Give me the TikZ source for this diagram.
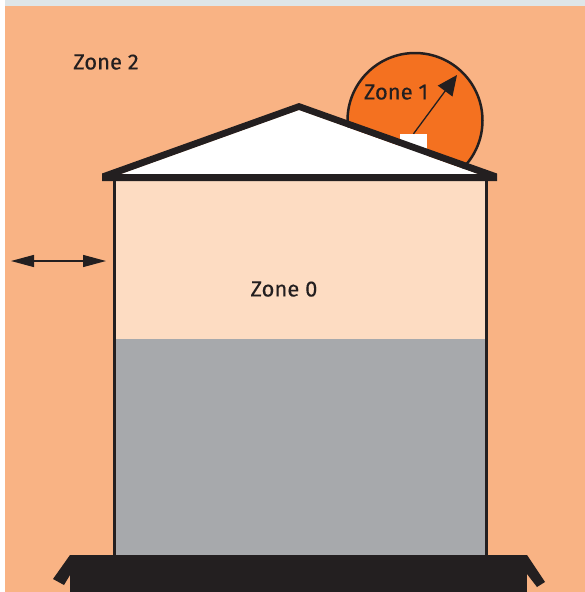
\documentclass[tikz,border=0pt]{standalone}
\usepackage{fontspec}
\setmainfont[FakeBold=0.3]{Fira Sans}
\usetikzlibrary{arrows.meta}
\definecolor{peach}{HTML}{F9B384}
\definecolor{strip}{HTML}{DFE6E8}
\definecolor{zonezero}{HTML}{FDDCC2}
\definecolor{tankgray}{HTML}{A7A9AC}
\definecolor{zoneone}{HTML}{F47120}
\definecolor{ink}{HTML}{231F20}
\tikzset{
  zonelabel/.style={font=\fontsize{22}{24}\selectfont, text=ink, inner sep=0pt},
  wall/.style={draw=ink, line width=3pt},
  dblarrow/.style={draw=ink, line width=1.3pt, {Triangle[width=12pt,length=23pt]}-{Triangle[width=12pt,length=23pt]}},
  ptr/.style={draw=ink, line width=1.3pt, -{Triangle[width=18pt,length=20pt]}}
}
\begin{document}
\begin{tikzpicture}[x=1pt,y=-1pt]
\useasboundingbox (0,0) rectangle (585,592);
\fill[white] (0,0) rectangle (585,592);
\fill[strip] (5,0) rectangle (585,6);
\fill[peach] (5,6) rectangle (585,592);
% dome
\path[draw=ink, line width=2.5pt, fill=zoneone] (415,120.5) circle[radius=67.5];
% hide the part of the dome under the eaves
\fill[peach] (470,164) -- (497,178) -- (470,195) -- (440,195) -- cycle;
% tank
\fill[zonezero] (114,178) rectangle (486,339);
\fill[tankgray] (114,339) rectangle (486,555);
\draw[wall] (114,178) -- (114,556);
\draw[wall] (486,178) -- (486,556);
% sensor box
\node[fill=white, minimum width=27pt, minimum height=24pt, inner sep=0pt] (sensor) at (413.5,146) {};
% roof
\fill[white] (121,174) -- (299,110) -- (478,174) -- cycle;
\fill[ink, even odd rule] (102,173.5) -- (299,103) -- (497,173.5) -- (497,181) -- (102,181) -- cycle
  (121,174) -- (299,110) -- (478,174) -- cycle;
% base
\fill[ink] (70,555) rectangle (527,592);
\fill[ink] (70,555) -- (53,579) -- (64,585) -- (70,575) -- cycle;
\fill[ink] (527,555) -- (545,582) -- (537,587) -- (527,574) -- cycle;
% arrows
\coordinate (al) at (11,261);
\coordinate (ar) at (106,261);
\draw[dblarrow] (al) -- (ar);
\coordinate (ptrend) at (457,75);
\draw[ptr] (sensor.north) -- (ptrend);
% labels
\node[zonelabel] (z2) at (106,62) {Zone 2};
\node[zonelabel] (z1) at (396,92) {Zone 1};
\node[zonelabel] (z0) at (284,289) {Zone 0};
\end{tikzpicture}
\end{document}
